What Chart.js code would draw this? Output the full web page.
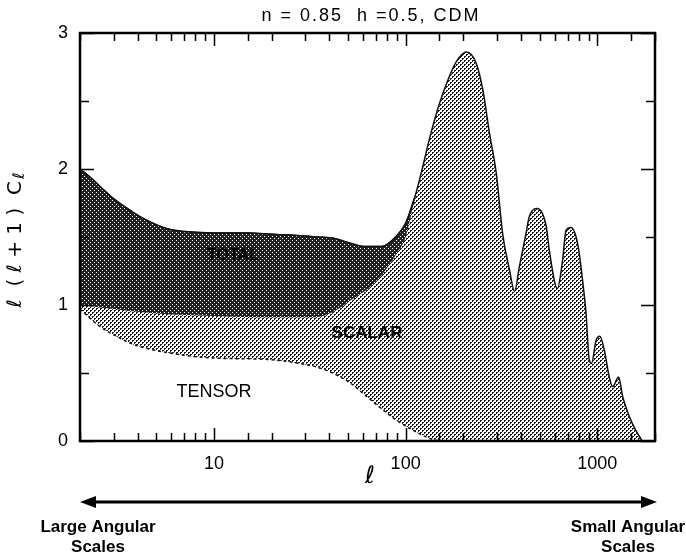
<!DOCTYPE html>
<html>
<head>
<meta charset="utf-8">
<script src="https://cdn.jsdelivr.net/npm/chart.js@4.4.0/dist/chart.umd.min.js"></script>
<style>
  html, body { margin: 0; padding: 0; background: #fff; }
  #wrap { width: 686px; height: 557px; }
</style>
</head>
<body>
<div id="wrap"><canvas id="cmbChart"></canvas></div>
<script>
// multipole l and l(l+1)C_l
const totalL = [2, 2.3, 2.55, 3, 3.8, 4.5, 5.7, 7, 10, 15, 20, 28, 35, 42, 50, 60, 75, 90, 100, 112, 123, 133, 150, 169, 184, 207, 233, 253, 274, 297, 321, 348, 370, 392, 425, 442, 487, 541, 562, 619, 659, 687, 729, 790, 838, 873, 907, 933, 985, 1032, 1087, 1155, 1202, 1292, 1355, 1469, 1585, 1715];
const totalC = [2.0, 1.93, 1.87, 1.78, 1.68, 1.62, 1.56, 1.54, 1.53, 1.53, 1.52, 1.51, 1.50, 1.49, 1.46, 1.43, 1.43, 1.51, 1.60, 1.80, 2.02, 2.22, 2.48, 2.68, 2.79, 2.86, 2.78, 2.58, 2.26, 1.97, 1.52, 1.26, 1.10, 1.28, 1.53, 1.65, 1.71, 1.58, 1.40, 1.12, 1.33, 1.55, 1.57, 1.45, 1.18, 0.94, 0.60, 0.57, 0.74, 0.77, 0.67, 0.47, 0.40, 0.47, 0.33, 0.18, 0.08, 0];

// lower edge of the dark (TOTAL) band
const bandL = [2, 3, 4, 6, 10, 20, 34, 42, 51, 65, 76, 90, 100, 112];
const bandC = [1.0, 0.97, 0.95, 0.93, 0.92, 0.91, 0.91, 0.95, 1.03, 1.13, 1.23, 1.38, 1.50, 1.80];

// tensor contribution (dashed)
const tensorL = [2, 2.55, 3.2, 3.8, 5.7, 10, 19, 28, 35, 41.6, 51, 60, 73, 90, 109, 133, 150];
const tensorC = [0.97, 0.84, 0.76, 0.71, 0.65, 0.61, 0.60, 0.57, 0.54, 0.50, 0.43, 0.35, 0.25, 0.15, 0.08, 0.02, 0];

const xMajor = [10, 100, 1000];
const yMajor = [0, 1, 2, 3];

function pts(ls, cs) {
    return ls.map((l, i) => ({ x: l, y: cs[i] }));
}

function makePattern(bg, fg, cells) {
    const c = document.createElement('canvas');
    c.width = 4; c.height = 4;
    const g = c.getContext('2d');
    g.fillStyle = bg;
    g.fillRect(0, 0, 4, 4);
    g.fillStyle = fg;
    cells.forEach(p => g.fillRect(p[0], p[1], 1, 1));
    return g.createPattern(c, 'repeat');
}

const lightFill = makePattern('#fff', '#1a1a1a', [[0,0],[1,0],[0,1],[2,2],[3,2],[2,3]]);
const darkFill = makePattern('#222', '#fff', [[0,0],[2,2]]);

const bandTop = pts(totalL, totalC).filter(p => p.x <= 112);

const decor = {
    id: 'decor',
    afterDatasetsDraw(chart) {
        const ctx = chart.ctx;
        const a = chart.chartArea;
        const xs = chart.scales.x, ys = chart.scales.y;
        ctx.save();
        ctx.strokeStyle = '#000';
        ctx.lineWidth = 2.5;
        ctx.strokeRect(a.left, a.top, a.right - a.left, a.bottom - a.top);
        ctx.lineWidth = 1.5;
        ctx.beginPath();
        xs.ticks.forEach(t => {
            const px = Math.round(xs.getPixelForValue(t.value)) + 0.5;
            const len = xMajor.includes(t.value) ? 13 : 8;
            ctx.moveTo(px, a.top); ctx.lineTo(px, a.top + len);
            ctx.moveTo(px, a.bottom); ctx.lineTo(px, a.bottom - len);
        });
        ys.ticks.forEach(t => {
            const py = Math.round(ys.getPixelForValue(t.value)) + 0.5;
            const len = yMajor.includes(t.value) ? 14 : 9;
            ctx.moveTo(a.left, py); ctx.lineTo(a.left + len, py);
            ctx.moveTo(a.right, py); ctx.lineTo(a.right - len, py);
        });
        ctx.stroke();

        ctx.fillStyle = '#000';
        ctx.textAlign = 'center';
        ctx.textBaseline = 'middle';
        ctx.font = 'bold 16px "Liberation Sans", Arial, sans-serif';
        ctx.fillText('TOTAL', 233, 256);
        ctx.font = 'bold 17px "Liberation Sans", Arial, sans-serif';
        ctx.fillText('SCALAR', 367, 333);
        ctx.font = '18px "Liberation Sans", Arial, sans-serif';
        ctx.fillText('TENSOR', 214, 392);
        ctx.restore();
    },
    afterDraw(chart) {
        const ctx = chart.ctx;
        const a = chart.chartArea;
        ctx.save();
        ctx.fillStyle = '#000';
        ctx.strokeStyle = '#000';
        ctx.textAlign = 'center';
        ctx.textBaseline = 'middle';

        // title
        ctx.font = '18px "Liberation Sans", Arial, sans-serif';
        ctx.letterSpacing = '2px';
        ctx.fillText('n = 0.85  h =0.5, CDM', 371, 16);
        ctx.letterSpacing = '0px';

        // x label
        ctx.font = '24px "DejaVu Sans", sans-serif';
        ctx.fillText('ℓ', 370, 477);

        // y label, rotated
        ctx.save();
        ctx.translate(16, 240);
        ctx.rotate(-Math.PI / 2);
        const bigF = '20px "DejaVu Sans", sans-serif';
        const subF = '16px "DejaVu Sans", sans-serif';
        const main = 'ℓ  ( ℓ + 1 )  C';
        ctx.font = bigF;
        const w = ctx.measureText(main).width;
        ctx.font = subF;
        const ws = ctx.measureText('ℓ').width;
        const x0 = -(w + ws + 2) / 2;
        ctx.textAlign = 'left';
        ctx.font = bigF;
        ctx.fillText(main, x0, 0);
        ctx.font = subF;
        ctx.fillText('ℓ', x0 + w + 2, 4);
        ctx.restore();

        // angular scale arrow
        const ay = 502;
        ctx.lineWidth = 3;
        ctx.beginPath();
        ctx.moveTo(a.left + 12, ay);
        ctx.lineTo(a.right - 12, ay);
        ctx.stroke();
        ctx.beginPath();
        ctx.moveTo(a.left, ay);
        ctx.lineTo(a.left + 16, ay - 6);
        ctx.lineTo(a.left + 16, ay + 6);
        ctx.closePath();
        ctx.moveTo(a.right + 2, ay);
        ctx.lineTo(a.right - 14, ay - 6);
        ctx.lineTo(a.right - 14, ay + 6);
        ctx.closePath();
        ctx.fill();

        ctx.font = 'bold 17px "Liberation Sans", Arial, sans-serif';
        ctx.fillText('Large Angular', 98, 527);
        ctx.fillText('Scales', 98, 547);
        ctx.fillText('Small Angular', 628, 527);
        ctx.fillText('Scales', 628, 547);
        ctx.restore();
    }
};

const ctx = document.getElementById('cmbChart').getContext('2d');

new Chart(ctx, {
    type: 'line',
    data: {
        datasets: [
            {
                data: bandTop,
                borderColor: '#111',
                borderWidth: 1.5,
                backgroundColor: darkFill,
                fill: '+1',
                pointRadius: 0,
                cubicInterpolationMode: 'monotone'
            },
            {
                data: pts(bandL, bandC),
                borderWidth: 0,
                borderColor: 'rgba(0,0,0,0)',
                fill: false,
                pointRadius: 0,
                cubicInterpolationMode: 'monotone'
            },
            {
                data: pts(tensorL, tensorC),
                borderColor: '#111',
                borderWidth: 1.5,
                borderDash: [3, 3],
                backgroundColor: '#fff',
                fill: 'origin',
                pointRadius: 0,
                cubicInterpolationMode: 'monotone'
            },
            {
                data: pts(totalL, totalC),
                borderColor: '#111',
                borderWidth: 1.5,
                backgroundColor: lightFill,
                fill: 'origin',
                pointRadius: 0,
                cubicInterpolationMode: 'monotone'
            }
        ]
    },
    options: {
        responsive: true,
        maintainAspectRatio: false,
        animation: false,
        layout: { padding: { left: 0, right: 31, top: 33, bottom: 0 } },
        scales: {
            x: {
                type: 'logarithmic',
                min: 2,
                max: 2000,
                grid: { display: false, drawTicks: false },
                border: { display: false },
                ticks: {
                    color: '#000',
                    font: { family: '"Liberation Sans", Arial, sans-serif', size: 18 },
                    padding: 12,
                    maxRotation: 0,
                    autoSkip: false,
                    callback: v => xMajor.includes(v) ? String(v) : ''
                },
                afterFit: s => { s.height = 116; }
            },
            y: {
                min: 0,
                max: 3,
                grid: { display: false, drawTicks: false },
                border: { display: false },
                ticks: {
                    stepSize: 0.5,
                    color: '#000',
                    font: { family: '"Liberation Sans", Arial, sans-serif', size: 18 },
                    padding: 12,
                    callback: v => yMajor.includes(v) ? String(v) : ''
                },
                afterFit: s => { s.width = 80; }
            }
        },
        plugins: {
            legend: { display: false },
            tooltip: { enabled: false }
        }
    },
    plugins: [decor]
});
</script>
</body>
</html>
